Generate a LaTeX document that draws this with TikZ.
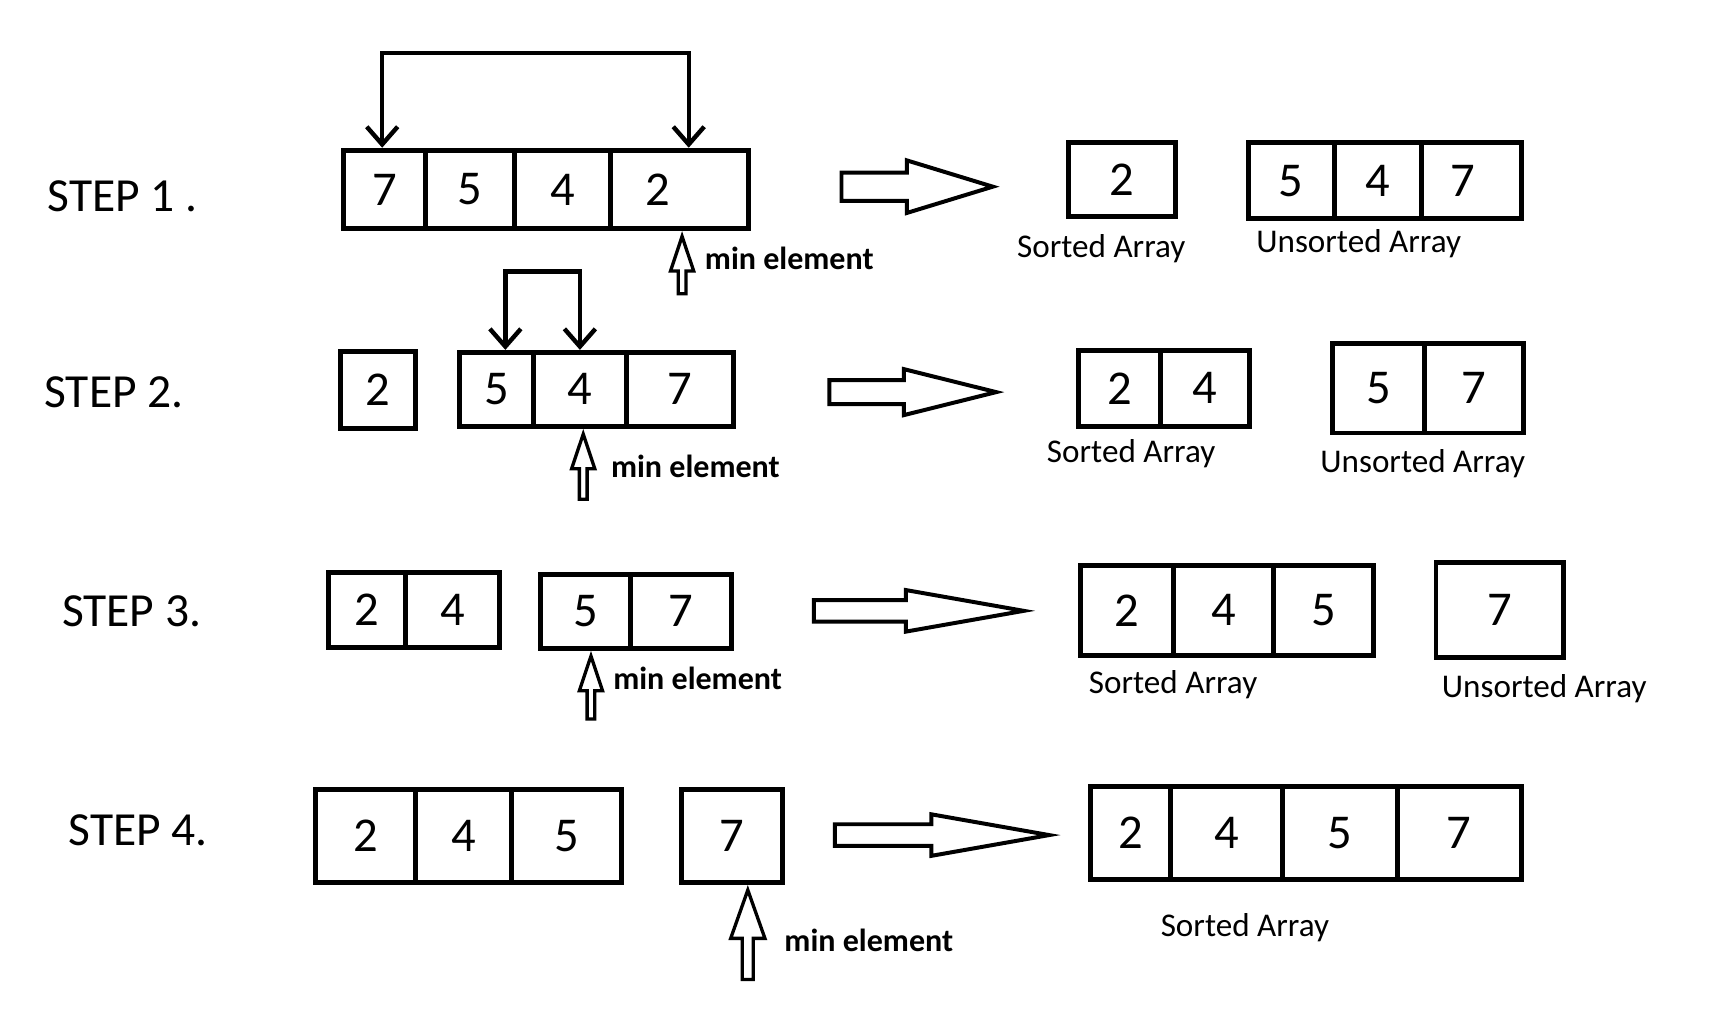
\documentclass[tikz,border=0pt]{standalone}
\usepackage{fontspec}
\setmainfont{Carlito}
\usetikzlibrary{positioning,shapes.arrows,arrows.meta}

\begin{document}
\begin{tikzpicture}[x=1pt,y=-1pt,
  cell/.style={draw,line width=4.5pt,inner sep=0pt,font=\fontsize{44}{48}\selectfont},
  steplab/.style={anchor=west,inner sep=0pt,font=\fontsize{43}{48}\selectfont},
  lab/.style={inner sep=0pt,font=\fontsize{30}{34}\selectfont},
  note/.style={anchor=west,inner sep=0pt,font=\fontsize{29}{34}\selectfont\bfseries},
  bigarr/.style={draw,line width=3.6pt,single arrow,inner sep=11pt,anchor=tail,
    single arrow head extend=11pt,single arrow tip angle=34},
  minarr/.style={draw,line width=3pt,single arrow,inner sep=2pt,shape border rotate=90,
    anchor=tip,single arrow head extend=7pt,single arrow tip angle=37},
  swap/.style={line width=4pt,{Straight Barb[length=16pt,width=28pt]}-{Straight Barb[length=16pt,width=28pt]}}]
\useasboundingbox (0,0) rectangle (1568,925);

% step 1
\node[steplab] (st1) at (43,178) {STEP 1 .};
\node[cell,minimum width=74pt,minimum height=71pt] (c11) at (348,171.5) {7};
\node[cell,minimum width=81pt,minimum height=71pt] (c12) at (425.5,171.5) {5};
\node[cell,minimum width=87pt,minimum height=71pt] (c13) at (509.5,171.5) {4};
\node[cell,minimum width=125pt,minimum height=71pt] (c14) at (615.5,171.5) {2\hspace*{40pt}};
\draw[swap] ([xshift=-2pt]c11.north) -- ++(0,-86) -| ([xshift=8pt]c14.north);
\node[minarr,minimum height=52pt] (m1) at ([xshift=2pt]c14.south) {};
\node[note] (t1) at (638,234) {min element};
\node[bigarr,minimum height=137pt] (b1) at (760,169) {};
\node[cell,minimum width=97pt,minimum height=67pt] (s11) at (1015.5,162.5) {2};
\node[cell,minimum width=78pt,minimum height=69pt] (u11) at (1169,163.5) {5};
\node[cell,minimum width=79pt,minimum height=69pt] (u12) at (1247.5,163.5) {4};
\node[cell,minimum width=90pt,minimum height=69pt] (u13) at (1332,163.5) {7\hspace*{16pt}};
\node[lab] (sl1) at (997,225) {Sorted Array};
\node[lab] (ul1) at (1230,221) {Unsorted Array};

% step 2
\node[steplab] (st2) at (40,355) {STEP 2.};
\node[cell,minimum width=68pt,minimum height=70pt] (l21) at (342,353) {2};
\node[cell,minimum width=67pt,minimum height=67pt] (c21) at (449.5,352.5) {5};
\node[cell,minimum width=84pt,minimum height=67pt] (c22) at (525,352.5) {4};
\node[cell,minimum width=97pt,minimum height=67pt] (c23) at (615.5,352.5) {7};
\draw[swap] ([xshift=8pt]c21.north) -- ++(0,-71) -| (c22.north);
\node[minarr,minimum height=59pt] (m2) at ([xshift=3pt]c22.south) {};
\node[note] (t2) at (553,422) {min element};
\node[bigarr,minimum height=151pt,inner sep=9pt,single arrow head extend=10pt,
  single arrow tip angle=28] (b2) at (749,355) {};
\node[cell,minimum width=75pt,minimum height=69pt] (s21) at (1013.5,351.5) {2};
\node[cell,minimum width=80pt,minimum height=69pt] (s22) at (1091,351.5) {4};
\node[cell,minimum width=84pt,minimum height=81pt] (u21) at (1248,351.5) {5};
\node[cell,minimum width=89pt,minimum height=81pt] (u22) at (1334.5,351.5) {7};
\node[lab] (sl2) at (1024,411) {Sorted Array};
\node[lab] (ul2) at (1288,420) {Unsorted Array};

% step 3
\node[steplab] (st3) at (56,553) {STEP 3.};
\node[cell,minimum width=70pt,minimum height=68pt] (l31) at (332,552) {2};
\node[cell,minimum width=85pt,minimum height=68pt] (l32) at (409.5,552) {4};
\node[cell,minimum width=82pt,minimum height=67pt] (c31) at (530,553.5) {5};
\node[cell,minimum width=91pt,minimum height=67pt] (c32) at (616.5,553.5) {7};
\node[minarr,minimum height=57pt] (m3) at ([xshift=5pt]c31.south) {};
\node[note] (t3) at (555,614) {min element};
\node[bigarr,minimum height=190pt,inner sep=8pt,single arrow head extend=9pt,
  single arrow tip angle=20] (b3) at (735,553) {};
\node[cell,minimum width=84pt,minimum height=81pt] (s31) at (1020,552.5) {2};
\node[cell,minimum width=91pt,minimum height=81pt] (s32) at (1107.5,552.5) {4};
\node[cell,minimum width=90pt,minimum height=81pt] (s33) at (1198,552.5) {5};
\node[cell,minimum width=115pt,minimum height=86pt] (u31) at (1357.5,552) {7};
\node[lab] (sl3) at (1062,620) {Sorted Array};
\node[lab] (ul3) at (1398,623) {Unsorted Array};

% step 4
\node[steplab] (st4) at (62,752) {STEP 4.};
\node[cell,minimum width=90pt,minimum height=84pt] (l41) at (331,757) {2};
\node[cell,minimum width=87pt,minimum height=84pt] (l42) at (419.5,757) {4};
\node[cell,minimum width=100pt,minimum height=84pt] (l43) at (513,757) {5};
\node[cell,minimum width=91pt,minimum height=84pt] (c41) at (662.5,757) {7};
\node[minarr,minimum height=81pt,inner sep=3.5pt,single arrow head extend=10.5pt,
  single arrow tip angle=39] (m4) at ([xshift=14.5pt]c41.south) {};
\node[note] (t4) at (710,851) {min element};
\node[bigarr,minimum height=194pt,inner sep=8pt,single arrow head extend=9pt,
  single arrow tip angle=20] (b4) at (754,756) {};
\node[cell,minimum width=73pt,minimum height=84pt] (s41) at (1023.5,754) {2};
\node[cell,minimum width=101pt,minimum height=84pt] (s42) at (1110.5,754) {4};
\node[cell,minimum width=104pt,minimum height=84pt] (s43) at (1213,754) {5};
\node[cell,minimum width=112pt,minimum height=84pt] (s44) at (1321,754) {7};
\node[lab] (sl4) at (1127,840) {Sorted Array};
\end{tikzpicture}
\end{document}
